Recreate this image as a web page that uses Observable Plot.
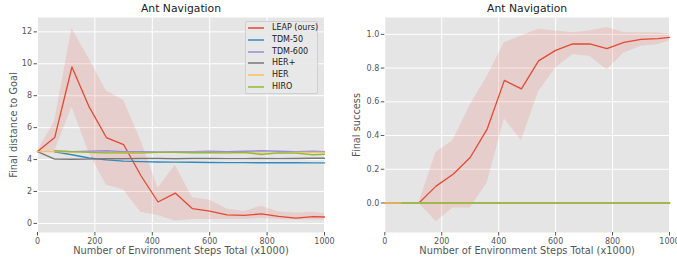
<!DOCTYPE html>
<html><head><meta charset="utf-8">
<script src="https://cdn.jsdelivr.net/npm/d3@7"></script>
<script src="https://cdn.jsdelivr.net/npm/@observablehq/plot@0.6"></script>
<style>
body{margin:0;background:#fff;font-family:"DejaVu Sans",sans-serif;}
#wrap{position:relative;width:677px;height:260px;overflow:hidden;}
.chart{position:absolute;top:0;}
#legend{position:absolute;left:245px;top:21px;width:71px;height:71px;background:rgba(232,232,232,0.9);border:1px solid #cfcfcf;border-radius:2px;font-size:8px;color:#222;}
#legend .row{position:relative;height:11.8px;line-height:11.8px;}
#legend svg{position:absolute;left:2px;top:0;}
#legend .lab{position:absolute;left:26px;top:0;white-space:nowrap;}
</style></head>
<body><div id="wrap"></div>
<script>
// ---- data ----
const steps = [0,60,120,180,240,300,360,420,480,540,600,660,720,780,840,900,960,1000];
const seriesNames = ["LEAP (ours)","TDM-50","TDM-600","HER+","HER","HIRO"];
const seriesColors = ["#E24A33","#348ABD","#988ED5","#777777","#FBC15E","#8EBA42"];

// Left panel: final distance to goal
const leapDist      = [4.5,5.38,9.8,7.3,5.38,4.94,3.0,1.34,1.9,0.92,0.77,0.54,0.5,0.6,0.44,0.33,0.42,0.4];
const leapDistLow   = [4.5,4.5,7.3,4.4,2.4,2.1,0.7,0.5,0.15,0.25,0.25,0.25,0.25,0.3,0.25,0.22,0.22,0.2];
const leapDistHigh  = [4.5,6.4,12.2,10.3,8.3,7.7,5.2,2.2,3.65,1.6,1.45,0.9,0.75,1.07,0.72,0.65,0.7,0.6];
const tdm50Dist     = [null,4.48,4.3,4.1,3.98,3.9,3.87,3.85,3.84,3.83,3.82,3.81,3.81,3.8,3.8,3.8,3.79,3.79];
const tdm600Dist    = [null,4.52,4.5,4.52,4.55,4.5,4.5,4.48,4.5,4.5,4.52,4.5,4.52,4.55,4.52,4.5,4.52,4.5];
const herPlusDist   = [4.5,4.03,4.02,4.03,4.05,4.05,4.07,4.07,4.05,4.07,4.07,4.06,4.06,4.07,4.06,4.07,4.08,4.08];
const herDist       = [4.5,4.5,4.45,4.45,4.43,4.43,4.42,4.45,4.45,4.45,4.45,4.42,4.43,4.4,4.42,4.45,4.45,4.45];
const hiroDist      = [null,4.55,4.5,4.45,4.42,4.42,4.42,4.45,4.45,4.43,4.43,4.42,4.45,4.32,4.42,4.4,4.3,4.33];

// Right panel: final success
const leapSucc      = [0,0,0,0.1,0.17,0.27,0.44,0.727,0.677,0.843,0.905,0.943,0.943,0.915,0.952,0.97,0.975,0.982];
const leapSuccLow   = [0,0,0,-0.11,-0.03,-0.03,0.12,0.5,0.37,0.66,0.8,0.88,0.87,0.79,0.89,0.93,0.94,0.96];
const leapSuccHigh  = [0,0,0,0.3,0.37,0.58,0.75,0.95,0.99,1.03,1.02,1.01,1.02,1.04,1.01,1.01,1.01,1.0];
const tdm50Succ     = [null,0,0,0,0,0,0,0,0,0,0,0,0,0,0,0,0,0];
const tdm600Succ    = [null,0,0,0,0,0,0,0,0,0,0,0,0,0,0,0,0,0];
const herPlusSucc   = [0,0,0,0,0,0,0,0,0,0,0,0,0,0,0,0,0,0];
const herSucc       = [0,0,0,0,0,0,0,0,0,0,0,0,0,0,0,0,0,0];
const hiroSucc      = [null,0,0,0,0,0,0,0,0,0,0,0,0,0,0,0,0,0];

const xTicks = [0,200,400,600,800,1000];
const yTicksDist = [0,2,4,6,8,10,12];
const yTicksSucc = [0,0.2,0.4,0.6,0.8,1.0];

// ---- chart builder ----
function rows(ys){ return steps.map((x,i)=>({x, y: ys[i]})); }
function band(lo,hi){ return steps.map((x,i)=>({x, lo: lo[i], hi: hi[i]})); }

function panel({width, marginLeft, marginRight, yDomain, yTicks, yFormat, yLabel, yLabelDx, mean, lo, hi, others}) {
  const FS = 8;
  const marks = [
    Plot.frame({fill:"#e5e5e5", stroke:null}),
    Plot.gridX(xTicks, {stroke:"#fff", strokeOpacity:1, strokeWidth:1}),
    Plot.gridY(yTicks, {stroke:"#fff", strokeOpacity:1, strokeWidth:1}),
    Plot.axisX(xTicks, {tickSize:3.5, tickPadding:2, stroke:"#555", fill:"#555", fontSize:FS, label:null, tickFormat:d3.format("d")}),
    Plot.axisY(yTicks, {tickSize:3.5, tickPadding:2, stroke:"#555", fill:"#555", fontSize:FS, label:null, tickFormat:yFormat}),
    Plot.areaY(band(lo,hi), {x:"x", y1:"lo", y2:"hi", fill:"#E24A33", fillOpacity:0.15, curve:"linear"}),
    Plot.lineY(rows(mean), {x:"x", y:"y", stroke:seriesColors[0], strokeWidth:1.3}),
    ...others.map((ys,k)=>Plot.lineY(rows(ys), {x:"x", y:"y", stroke:seriesColors[k+1], strokeWidth:1.4})),
    Plot.text(["Ant Navigation"], {frameAnchor:"top", dy:-8.5, fontSize:10.8, fill:"#222", lineAnchor:"middle", textAnchor:"middle"}),
    Plot.text(["Number of Environment Steps Total (x1000)"], {frameAnchor:"bottom", dy:18.5, fontSize:9.8, fill:"#555", lineAnchor:"middle", textAnchor:"middle"}),
    Plot.text([yLabel], {frameAnchor:"left", dx:yLabelDx, rotate:-90, fontSize:9.8, fill:"#555", lineAnchor:"middle", textAnchor:"middle"})
  ];
  return Plot.plot({
    width, height:260, marginLeft, marginRight, marginTop:17, marginBottom:28,
    style:{fontFamily:"DejaVu Sans, sans-serif", background:"transparent", overflow:"visible"},
    x:{domain:[0,1000]},
    y:{domain:yDomain},
    marks
  });
}

const wrap = document.getElementById("wrap");
const left = panel({
  width:340, marginLeft:37, marginRight:16,
  yDomain:[-0.57,12.9], yTicks:yTicksDist, yFormat:d3.format("d"),
  yLabel:"Final distance to Goal", yLabelDx:-24,
  mean:leapDist, lo:leapDistLow, hi:leapDistHigh,
  others:[tdm50Dist,tdm600Dist,herPlusDist,herDist,hiroDist]
});
left.classList.add("chart"); left.style.left="0px";
wrap.appendChild(left);

const right = panel({
  width:337, marginLeft:44.3, marginRight:8,
  yDomain:[-0.175,1.1], yTicks:yTicksSucc, yFormat:d3.format(".1f"),
  yLabel:"Final success", yLabelDx:-28,
  mean:leapSucc, lo:leapSuccLow, hi:leapSuccHigh,
  others:[tdm50Succ,tdm600Succ,herPlusSucc,herSucc,hiroSucc]
});
right.classList.add("chart"); right.style.left="340px";
wrap.appendChild(right);

// legend (HTML overlay)
const lg = document.createElement("div");
lg.id = "legend";
seriesNames.forEach((n,i)=>{
  const r = document.createElement("div"); r.className="row";
  r.innerHTML = `<svg width="18" height="12"><line x1="0" x2="16" y1="6" y2="6" stroke="${seriesColors[i]}" stroke-width="1.5"/></svg>`;
  const t = document.createElement("div"); t.className="lab"; t.textContent=n;
  r.appendChild(t); lg.appendChild(r);
});
wrap.appendChild(lg);
</script>
</body></html>
